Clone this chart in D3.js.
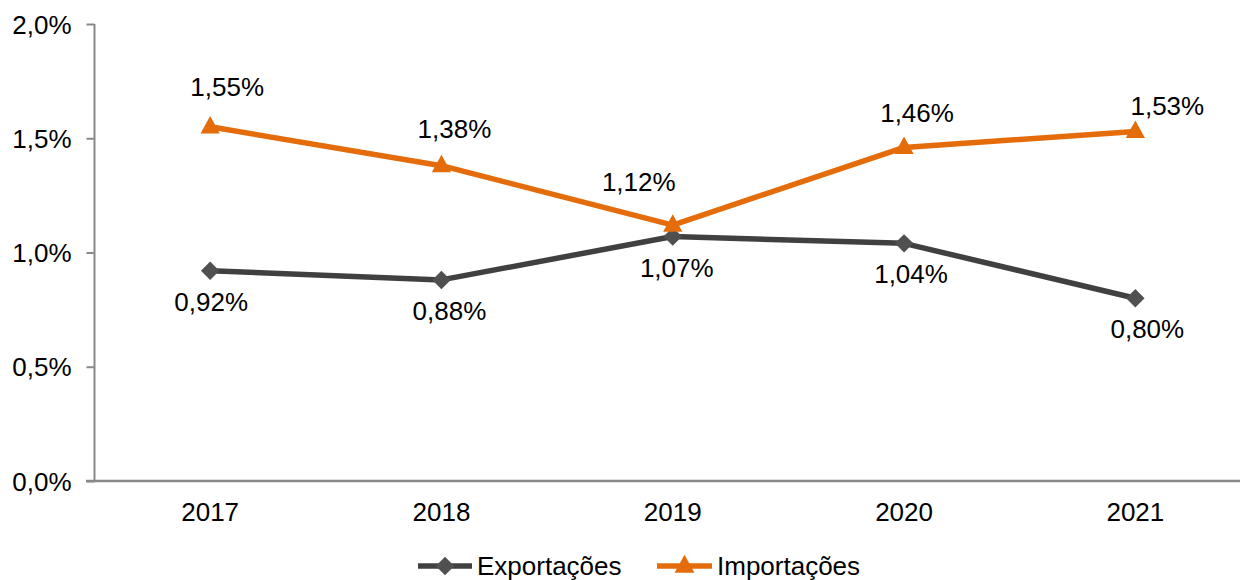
<!DOCTYPE html>
<html><head><meta charset="utf-8">
<script src="https://cdn.jsdelivr.net/npm/d3@7"></script>
<style>body{margin:0;background:#fff}svg{display:block}text{font-family:"Liberation Sans",Arial,sans-serif}</style>
</head><body><svg id="c" width="1240" height="580"></svg>
<script>
const years = ["2017","2018","2019","2020","2021"];
const exportacoes = [0.92, 0.88, 1.07, 1.04, 0.80];
const importacoes = [1.55, 1.38, 1.12, 1.46, 1.53];
const yTicks = [0, 0.5, 1.0, 1.5, 2.0];
const seriesNames = ["Exportações", "Importações"];
// label nudges (px) relative to default placement
const expLabelDx = [1, 8, 4, 7, 12];
const impLabelDx = [17, 13, -34, 13, 32];
const impLabelDy = [0, 3, -3, 6, 15];

const svg = d3.select("#c");
const fmt = v => v.toFixed(2).replace(".", ",") + "%";
const fmtTick = v => v.toFixed(1).replace(".", ",") + "%";

const x = d3.scaleBand().domain(years).range([94.5, 1251]);
const y = d3.scaleLinear().domain([0, 2]).range([481, 24]);

// y axis
const ya = svg.append("g").attr("transform", "translate(94.5,0)")
  .call(d3.axisLeft(y).tickValues(yTicks).tickFormat(fmtTick).tickSize(8).tickPadding(8));
ya.select(".domain").attr("stroke", "#898989").attr("stroke-width", 2).attr("d", "M0,481V24");
ya.selectAll(".tick line").attr("stroke", "#898989").attr("stroke-width", 2);
ya.selectAll(".tick text").attr("font-size", 26).attr("fill", "#000").attr("font-family", "Liberation Sans, Arial, sans-serif").attr("dy", "0.35em").attr("x", -23);

// x axis
const xa = svg.append("g").attr("transform", "translate(0,481)")
  .call(d3.axisBottom(x).tickSize(0).tickPadding(22));
xa.select(".domain").attr("stroke", "#898989").attr("stroke-width", 2.5).attr("d", "M86,0H1251");
xa.selectAll(".tick text").attr("font-size", 26).attr("fill", "#000").attr("font-family", "Liberation Sans, Arial, sans-serif");

const cx = d => x(d) + x.bandwidth() / 2;
const line = d3.line().x((d, i) => cx(years[i])).y(d => y(d));

const expColor = "#404040", expMarker = "#505050", impColor = "#E46C0A";

svg.append("path").datum(exportacoes).attr("d", line).attr("fill", "none")
  .attr("stroke", expColor).attr("stroke-width", 5.5).attr("stroke-linejoin", "round");
svg.append("path").datum(importacoes).attr("d", line).attr("fill", "none")
  .attr("stroke", impColor).attr("stroke-width", 5.5).attr("stroke-linejoin", "round");

const diamond = d3.symbol().type(d3.symbolSquare).size(170);
const tri = (s) => `M0,${-s*0.62}L${s*0.55},${s*0.38}L${-s*0.55},${s*0.38}Z`;

svg.selectAll(".dm").data(exportacoes).join("path")
  .attr("d", diamond()).attr("fill", expMarker)
  .attr("transform", (d, i) => `translate(${cx(years[i])},${y(d)}) rotate(45)`);
svg.selectAll(".tm").data(importacoes).join("path")
  .attr("d", tri(17.5)).attr("fill", impColor)
  .attr("transform", (d, i) => `translate(${cx(years[i])},${y(d)})`);

// labels
svg.selectAll(".el").data(exportacoes).join("text")
  .attr("x", (d, i) => cx(years[i]) + expLabelDx[i]).attr("y", d => y(d) + 40)
  .attr("text-anchor", "middle").attr("font-size", 26).attr("fill", "#000").text(fmt);
svg.selectAll(".il").data(importacoes).join("text")
  .attr("x", (d, i) => cx(years[i]) + impLabelDx[i]).attr("y", (d, i) => y(d) - 31 + impLabelDy[i])
  .attr("text-anchor", "middle").attr("font-size", 26).attr("fill", "#000").text(fmt);

// legend
const lg = svg.append("g").attr("transform", "translate(0,566)");
const l1 = lg.append("g").attr("transform", "translate(418,0)");
l1.append("line").attr("x1", 0).attr("x2", 54).attr("stroke", expColor).attr("stroke-width", 5.5);
l1.append("path").attr("d", diamond()).attr("fill", expMarker).attr("transform", "translate(27,0) rotate(45)");
l1.append("text").attr("x", 59).attr("dy", "0.35em").attr("font-size", 26).attr("fill", "#000").text(seriesNames[0]);
const l2 = lg.append("g").attr("transform", "translate(657,0)");
l2.append("line").attr("x1", 0).attr("x2", 55).attr("stroke", impColor).attr("stroke-width", 5.5);
l2.append("path").attr("d", tri(18)).attr("fill", impColor).attr("transform", "translate(27.5,0)");
l2.append("text").attr("x", 60).attr("dy", "0.35em").attr("font-size", 26).attr("fill", "#000").text(seriesNames[1]);
</script></body></html>
